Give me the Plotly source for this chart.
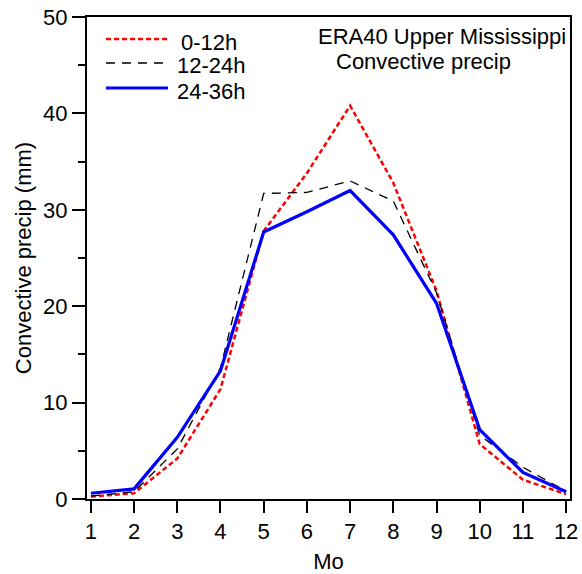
import plotly.graph_objects as go

months = list(range(1, 13))
series_names = ["0-12h", "12-24h", "24-36h"]
precip_0_12 = [0.25, 0.6, 4.2, 11.4, 27.8, 33.8, 40.8, 32.8, 21.6, 5.7, 2.0, 0.5]
precip_12_24 = [0.3, 0.75, 5.2, 13.6, 31.7, 31.8, 33.0, 30.9, 21.4, 6.6, 3.3, 0.8]
precip_24_36 = [0.6, 1.05, 6.4, 13.3, 27.7, 29.8, 32.0, 27.4, 20.3, 7.2, 2.75, 0.75]
x_tick_labels = [str(m) for m in months]
y_tick_values = [0, 10, 20, 30, 40, 50]
title_lines = ["ERA40 Upper Mississippi", "Convective precip"]

FONT = "Liberation Sans, Arial, sans-serif"
FS = 22
styles = [
    dict(color="#ff0000", width=2.5, dash="5px,3px"),
    dict(color="#000000", width=1.3, dash="9px,7px"),
    dict(color="#0000ff", width=3.2, dash="solid"),
]
all_series = [precip_0_12, precip_12_24, precip_24_36]

fig = go.Figure()
for name, vals, st in zip(series_names, all_series, styles):
    fig.add_trace(go.Scatter(x=months, y=vals, mode="lines", name=name,
                             line=st, showlegend=False))

W, H = 582, 574
L, R, T, B = 87, 12, 17, 75
pw, ph = W - L - R, H - T - B

def px_x(x):
    return (x - L) / pw

def px_y(y):
    return 1 - (y - T) / ph

# custom legend
leg_rows = [39, 63, 88]
leg_text_x = [179, 175, 175]
for name, st, yy, tx in zip(series_names, styles, leg_rows, leg_text_x):
    fig.add_shape(type="line", xref="paper", yref="paper",
                  x0=px_x(106), x1=px_x(168), y0=px_y(yy), y1=px_y(yy),
                  line=st)
    fig.add_annotation(xref="paper", yref="paper", x=px_x(tx), y=px_y(yy + 3),
                       text=name, showarrow=False, xanchor="left", yanchor="middle",
                       font=dict(family=FONT, size=FS, color="black"))

fig.add_annotation(xref="paper", yref="paper", x=px_x(568), y=px_y(37),
                   text=title_lines[0], showarrow=False, xanchor="right", yanchor="middle",
                   font=dict(family=FONT, size=FS, color="black"))
fig.add_annotation(xref="paper", yref="paper", x=px_x(423), y=px_y(61),
                   text=title_lines[1], showarrow=False, xanchor="center", yanchor="middle",
                   font=dict(family=FONT, size=FS, color="black"))

fig.update_layout(
    width=W, height=H,
    margin=dict(l=L, r=R, t=T, b=B, autoexpand=False),
    paper_bgcolor="white", plot_bgcolor="white",
    font=dict(family=FONT, size=FS, color="black"),
    showlegend=False,
)
fig.update_xaxes(
    range=[0.91, 12.09], tickmode="array", tickvals=months, ticktext=x_tick_labels,
    ticks="outside", ticklen=12, tickwidth=2, tickcolor="black",
    showline=True, linewidth=2, linecolor="black", mirror=True,
    showgrid=False, zeroline=False,
    title=dict(text="Mo", standoff=10, font=dict(size=FS)),
    tickfont=dict(size=FS),
)
fig.update_yaxes(
    range=[0, 50], tickmode="array", tickvals=y_tick_values,
    ticks="outside", ticklen=13, tickwidth=2, tickcolor="black",
    minor=dict(dtick=5, ticks="outside", ticklen=7, tickwidth=2, tickcolor="black"),
    showline=True, linewidth=2, linecolor="black", mirror=True,
    showgrid=False, zeroline=False,
    title=dict(text="Convective precip (mm)", standoff=5, font=dict(size=FS)),
    tickfont=dict(size=FS),
)

fig.write_html("out.html")
